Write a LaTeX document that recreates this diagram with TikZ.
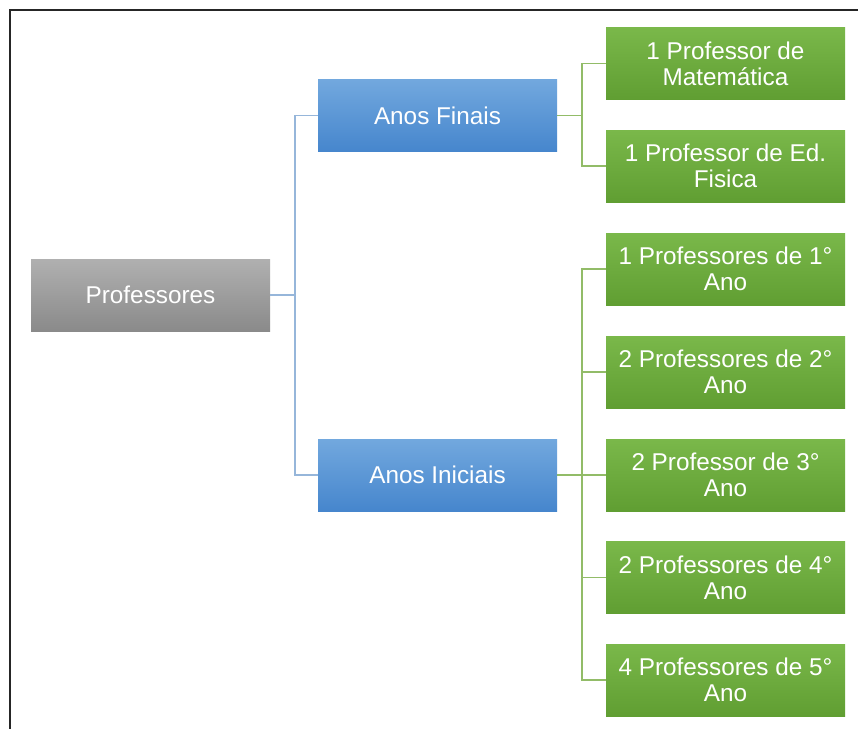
\documentclass[tikz,border=0pt]{standalone}
\usepackage{fontspec}
\setmainfont{Liberation Sans}
\begin{document}
\begin{tikzpicture}[x=1pt,y=-1pt,
  box/.style={minimum width=239pt,minimum height=72pt,inner sep=0pt,align=center,
    text=white,font=\fontsize{24.3}{26}\selectfont},
  graybox/.style={box,top color=gboxtop,bottom color=gboxbot},
  bluebox/.style={box,top color=bboxtop,bottom color=bboxbot},
  greenbox/.style={box,top color=grtop,bottom color=grbot},
  blueline/.style={draw=blin,line width=1.6pt},
  greenline/.style={draw=grlin,line width=1.6pt},
  frameline/.style={draw=black!85,line width=1.6pt}]
\definecolor{gboxtop}{RGB}{176,176,176}
\definecolor{gboxbot}{RGB}{138,138,138}
\definecolor{bboxtop}{RGB}{114,168,222}
\definecolor{bboxbot}{RGB}{70,134,205}
\definecolor{grtop}{RGB}{122,184,74}
\definecolor{grbot}{RGB}{96,158,50}
\definecolor{blin}{RGB}{150,182,218}
\definecolor{grlin}{RGB}{146,188,104}
\useasboundingbox (0,0) rectangle (858,729);
\fill[white] (0,0) rectangle (858,729);
\coordinate (ftr) at (858,10);
\coordinate (ftl) at (10,10);
\coordinate (fbl) at (10,729);
\draw[frameline] (ftr) -- (ftl) -- (fbl);

\node[graybox] (P) at (150.5,295) {Professores};
\node[bluebox] (AF) at (437.5,115.5) {Anos Finais};
\node[bluebox] (AI) at (437.5,475) {Anos Iniciais};

\node[greenbox] (G1) at (725.5,63.5) {1 Professor de\\Matemática};
\node[greenbox] (G2) at (725.5,166) {1 Professor de Ed.\\Fisica};
\node[greenbox] (G3) at (725.5,269) {1 Professores de 1°\\Ano};
\node[greenbox] (G4) at (725.5,372) {2 Professores de 2°\\Ano};
\node[greenbox] (G5) at (725.5,475) {2 Professor de 3°\\Ano};
\node[greenbox] (G6) at (725.5,577.5) {2 Professores de 4°\\Ano};
\node[greenbox] (G7) at (725.5,680) {4 Professores de 5°\\Ano};

\coordinate (b1) at (295,295);
\draw[blueline] (P.east) -- (b1);
\draw[blueline] (b1) |- (AF.west);
\draw[blueline] (b1) |- (AI.west);

\coordinate (g1) at (582,115.5);
\draw[greenline] (AF.east) -- (g1);
\draw[greenline] (g1) |- (G1.west);
\draw[greenline] (g1) |- (G2.west);

\coordinate (g2) at (582,475);
\draw[greenline] (AI.east) -- (g2);
\foreach \n in {G3,G4,G5,G6,G7}{
  \draw[greenline] (g2) |- (\n.west);
}
\end{tikzpicture}
\end{document}
